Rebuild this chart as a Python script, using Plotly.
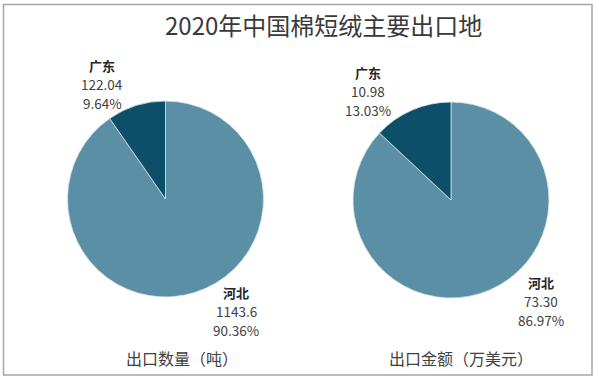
import plotly.graph_objects as go

title = "2020年中国棉短绒主要出口地"
regions = ["河北", "广东"]
qty_values = [1143.6, 122.04]
qty_labels = ["1143.6", "122.04"]
amt_values = [73.30, 10.98]
amt_labels = ["73.30", "10.98"]
chart_names = ["出口数量（吨）", "出口金额（万美元）"]
colors = ["#5b8fa6", "#0d4f68"]

W, H = 599, 379
TXT = "#404040"
FONT = "Noto Sans CJK SC, Open Sans, sans-serif"


def px_dom(cx, cy, r):
    return dict(x=[(cx - r) / W, (cx + r) / W], y=[(H - cy - r) / H, (H - cy + r) / H])


fig = go.Figure()
pies = [(qty_values, px_dom(165.5, 199, 98)), (amt_values, px_dom(451, 200, 98))]
for vals, dom in pies:
    fig.add_trace(go.Pie(
        labels=regions, values=vals, sort=False, direction="clockwise", rotation=0,
        marker=dict(colors=colors, line=dict(color="#d8e4ea", width=0.8)),
        textinfo="none", hoverinfo="label+value+percent", showlegend=False,
        domain=dom,
    ))

annotations = []


def txt(x, y, s, size=13, bold=False, color=TXT):
    annotations.append(dict(
        x=x / W, y=1 - y / H, xref="paper", yref="paper", xanchor="center", yanchor="middle",
        text=f"<b>{s}</b>" if bold else s, showarrow=False,
        font=dict(size=size, color=color, family=FONT),
    ))


def lab(name, vtxt, vals, i, x, y):
    pct = vals[i] / sum(vals) * 100
    txt(x, y - 18.5, name, bold=True, color="#262626")
    txt(x, y, vtxt, size=13.5)
    txt(x, y + 18.5, f"{pct:.2f}%", size=13.5)


lab(regions[1], qty_labels[1], qty_values, 1, 102, 84)
lab(regions[0], qty_labels[0], qty_values, 0, 236, 311)
lab(regions[1], amt_labels[1], amt_values, 1, 368, 91)
lab(regions[0], amt_labels[0], amt_values, 0, 541, 301)

txt(182, 358, chart_names[0], size=16)
txt(461, 358, chart_names[1], size=16)
txt(323, 24, title, size=24, color="#3a3a3a")

fig.update_layout(
    width=W, height=H, margin=dict(l=0, r=0, t=0, b=0),
    paper_bgcolor="white", plot_bgcolor="white",
    annotations=annotations,
    shapes=[dict(type="rect", xref="paper", yref="paper",
                 x0=3.5 / W, x1=592 / W, y0=1 - 375 / H, y1=1 - 4.5 / H,
                 line=dict(color="#a6a6a6", width=1.5), fillcolor="rgba(0,0,0,0)")],
)

fig.write_html("out.html", config={"displayModeBar": False},
               post_script="document.body.style.margin='0';document.body.style.padding='0';")
